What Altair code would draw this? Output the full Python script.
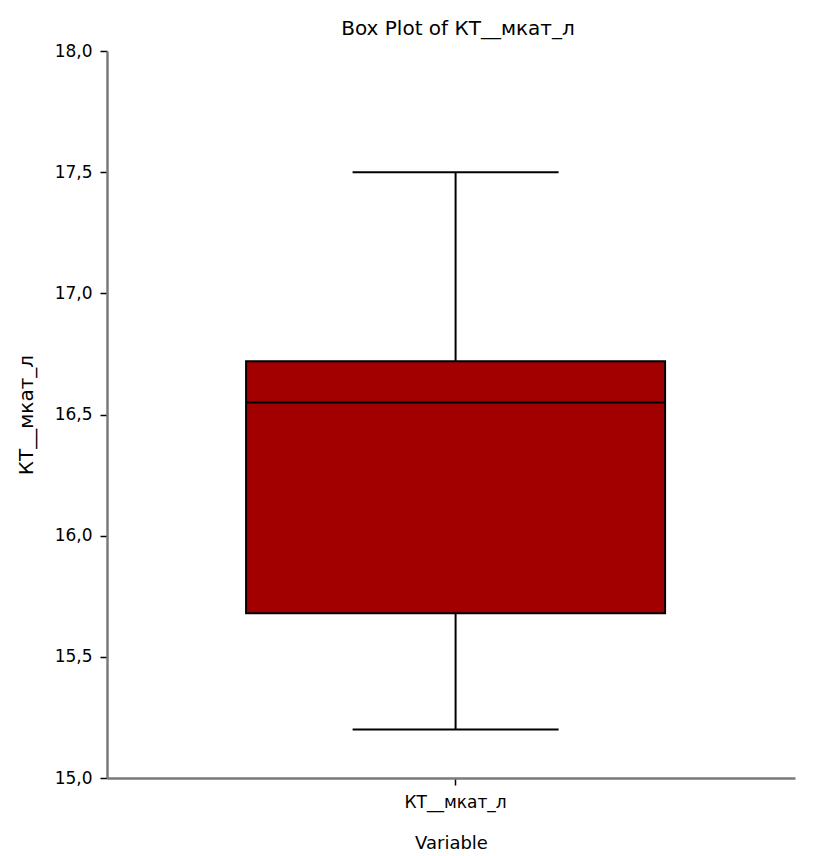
import altair as alt
import pandas as pd

# Data
variables = ["КТ__мкат_л"]
whisker_low = [15.2]
q1 = [15.68]
median = [16.55]
q3 = [16.72]
whisker_high = [17.5]
y_ticks = [15.0, 15.5, 16.0, 16.5, 17.0, 17.5, 18.0]

df = pd.DataFrame({
    "var": variables,
    "lo": whisker_low,
    "q1": q1,
    "med": median,
    "q3": q3,
    "hi": whisker_high,
})

FONT = "DejaVu Sans"

x_enc = alt.X("var:N", title="Variable",
              scale=alt.Scale(paddingInner=0, paddingOuter=0.1, align=0.54),
              axis=alt.Axis(labelAngle=0, domainColor="#7a7a7a", domainWidth=2.5,
                            tickColor="black", tickWidth=1.5, tickSize=7,
                            labelFont=FONT, labelFontSize=17, labelColor="black",
                            labelPadding=9, titleFont=FONT, titleFontSize=18,
                            titleFontWeight="normal", titleColor="black", titlePadding=24))
y_scale = alt.Scale(domain=[15, 18], nice=False, zero=False)
y_axis = alt.Axis(values=y_ticks, grid=False,
                  labelExpr="replace(format(datum.value, '.1f'), '.', ',')",
                  domainColor="#7a7a7a", domainWidth=2.5, tickColor="black",
                  tickWidth=1.5, tickSize=7, labelFont=FONT, labelFontSize=17,
                  labelColor="black", labelPadding=8, titleFont=FONT,
                  titleFontSize=20, titleFontWeight="normal", titleColor="black",
                  titlePadding=18)

base = alt.Chart(df)

lower = base.mark_rule(color="black", strokeWidth=2).encode(
    x=x_enc,
    y=alt.Y("lo:Q", scale=y_scale, axis=y_axis, title="КТ__мкат_л"),
    y2="q1:Q",
)
upper = base.mark_rule(color="black", strokeWidth=2).encode(
    x="var:N", y="q3:Q", y2="hi:Q")
box = base.mark_bar(size=419, color="#a20000", stroke="black", strokeWidth=2,
                    opacity=1).encode(
    x="var:N", y="q1:Q", y2="q3:Q")
med = base.mark_tick(size=419, thickness=2, color="black", opacity=1).encode(
    x="var:N", y="med:Q")
cap_lo = base.mark_tick(size=206, thickness=2, color="black", opacity=1).encode(
    x="var:N", y="lo:Q")
cap_hi = base.mark_tick(size=206, thickness=2, color="black", opacity=1).encode(
    x="var:N", y="hi:Q")

chart = alt.layer(lower, upper, box, med, cap_lo, cap_hi).properties(
    width=688, height=727,
    title=alt.TitleParams("Box Plot of КТ__мкат_л", font=FONT, fontSize=20,
                          fontWeight="normal", color="black", offset=3, dx=7),
    autosize=alt.AutoSizeParams(type="none"),
    padding={"left": 99, "top": 43, "right": 20, "bottom": 76},
).configure_view(stroke=None)

chart.save("out.html", embed_options={"renderer": "svg", "actions": False})
